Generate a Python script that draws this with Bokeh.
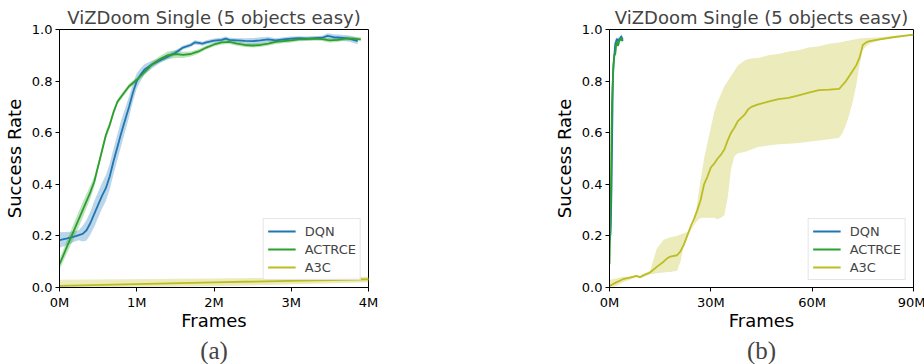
from bokeh.plotting import figure
from bokeh.layouts import row
from bokeh.models import Range1d, FixedTicker, PrintfTickFormatter, Title, Legend
from bokeh.embed import file_html
from bokeh.resources import INLINE

# ---------------- data (x in millions of frames) ----------------
DQN_x = [0, 0.1, 0.2, 0.25, 0.3, 0.35, 0.4, 0.45, 0.5, 0.55, 0.6, 0.65, 0.7, 0.75, 0.8,
         0.85, 0.9, 0.95, 1.0, 1.05, 1.1, 1.2, 1.3, 1.4, 1.5, 1.6, 1.7, 1.75, 1.8, 1.85,
         1.9, 2.0, 2.1, 2.15, 2.2, 2.3, 2.4, 2.5, 2.6, 2.7, 2.8, 2.9, 3.0, 3.1, 3.2,
         3.3, 3.4, 3.47, 3.55, 3.65, 3.75, 3.86]
DQN_y = [0.184, 0.19, 0.198, 0.203, 0.208, 0.222, 0.25, 0.285, 0.32, 0.355, 0.385, 0.43,
         0.49, 0.545, 0.60, 0.65, 0.70, 0.755, 0.80, 0.825, 0.845, 0.865, 0.88, 0.895,
         0.91, 0.93, 0.94, 0.95, 0.948, 0.945, 0.95, 0.957, 0.96, 0.965, 0.96, 0.958,
         0.956, 0.955, 0.958, 0.962, 0.958, 0.962, 0.965, 0.966, 0.965, 0.966, 0.968,
         0.975, 0.97, 0.968, 0.965, 0.955]
DQN_std = [0.03, 0.025, 0.02, 0.02, 0.03, 0.04, 0.045, 0.05, 0.05, 0.05,
           0.05, 0.05, 0.05, 0.05, 0.05, 0.045, 0.04, 0.035, 0.03, 0.025,
           0.02, 0.015, 0.01, 0.01, 0.01, 0.008, 0.008, 0.008, 0.008, 0.008,
           0.008, 0.008, 0.008, 0.008, 0.008, 0.008, 0.01, 0.012, 0.012, 0.01,
           0.008, 0.008, 0.008, 0.008, 0.008, 0.008, 0.008, 0.01, 0.012, 0.012,
           0.012, 0.012]

ACTRCE_x = [0, 0.1, 0.2, 0.3, 0.4, 0.45, 0.5, 0.55, 0.6, 0.65, 0.7, 0.75, 0.8, 0.9, 1.0,
            1.1, 1.2, 1.3, 1.4, 1.5, 1.6, 1.7, 1.75, 1.8, 1.9, 2.0, 2.1, 2.2, 2.3, 2.4,
            2.5, 2.6, 2.7, 2.8, 2.9, 3.0, 3.1, 3.2, 3.3, 3.4, 3.5, 3.6, 3.7, 3.8, 3.9]
ACTRCE_y = [0.09, 0.16, 0.23, 0.30, 0.37, 0.41, 0.47, 0.53, 0.59, 0.63, 0.68, 0.72, 0.74,
            0.78, 0.805, 0.835, 0.865, 0.885, 0.9, 0.905, 0.902, 0.905, 0.91, 0.915, 0.93,
            0.942, 0.95, 0.952, 0.945, 0.94, 0.938, 0.94, 0.945, 0.952, 0.955, 0.958,
            0.962, 0.963, 0.965, 0.963, 0.958, 0.96, 0.965, 0.965, 0.962]
ACTRCE_std = [0.02, 0.025, 0.03, 0.03, 0.025, 0.02, 0.015, 0.015, 0.015, 0.015,
              0.012, 0.01, 0.01, 0.01, 0.01, 0.01, 0.01, 0.012, 0.015, 0.015,
              0.012, 0.01, 0.01, 0.008, 0.008, 0.008, 0.008, 0.008, 0.008, 0.008,
              0.008, 0.008, 0.008, 0.008, 0.008, 0.008, 0.008, 0.008, 0.008, 0.008,
              0.008, 0.008, 0.008, 0.008, 0.008]

A3C_x = [0, 2, 4, 6, 8, 9, 10, 12, 14, 16, 17, 18, 20, 21, 22, 23, 24, 25, 26, 27, 28, 29,
         30, 31, 32, 33, 34, 35, 36, 37, 38, 40, 41, 42, 44, 47, 50, 53, 56, 59, 62, 65,
         68, 69, 70, 71, 72, 73, 74, 75, 76, 77, 80, 84, 90]
A3C_y = [0.006, 0.02, 0.032, 0.038, 0.045, 0.04, 0.047, 0.058, 0.08, 0.10, 0.112, 0.12,
         0.125, 0.14, 0.165, 0.20, 0.235, 0.265, 0.30, 0.34, 0.40, 0.43, 0.465, 0.48,
         0.50, 0.515, 0.535, 0.57, 0.60, 0.62, 0.645, 0.67, 0.69, 0.70, 0.71, 0.72, 0.73,
         0.735, 0.745, 0.755, 0.765, 0.767, 0.77, 0.785, 0.80, 0.82, 0.84, 0.86, 0.89,
         0.94, 0.95, 0.955, 0.962, 0.97, 0.98]
A3C_low = [0.0, 0.005, 0.02, 0.03, 0.04, 0.035, 0.04, 0.05, 0.055, 0.058, 0.06, 0.06,
           0.065, 0.10, 0.16, 0.20, 0.22, 0.24, 0.26, 0.27, 0.27, 0.27, 0.27, 0.27,
           0.265, 0.27, 0.28, 0.35, 0.46, 0.51, 0.52, 0.525, 0.53, 0.535, 0.545, 0.55,
           0.555, 0.557, 0.56, 0.565, 0.57, 0.575, 0.58, 0.60, 0.63, 0.67, 0.72, 0.78,
           0.86, 0.92, 0.935, 0.945, 0.958, 0.968, 0.978]
A3C_high = [0.03, 0.035, 0.042, 0.043, 0.047, 0.045, 0.052, 0.065, 0.15, 0.185, 0.19,
            0.195, 0.2, 0.205, 0.21, 0.215, 0.225, 0.25, 0.33, 0.42, 0.50, 0.56, 0.62,
            0.68, 0.72, 0.75, 0.78, 0.80, 0.82, 0.84, 0.86, 0.88, 0.885, 0.888, 0.89,
            0.9, 0.905, 0.915, 0.92, 0.93, 0.935, 0.945, 0.95, 0.952, 0.955, 0.957, 0.96,
            0.962, 0.965, 0.966, 0.967, 0.968, 0.97, 0.975, 0.982]

TITLE = "ViZDoom Single (5 objects easy)"
Y_TICKS = [0, 0.2, 0.4, 0.6, 0.8, 1.0]
X_TICKS_A = [0, 1, 2, 3, 4]
X_TICKS_B = [0, 30, 60, 90]
CAPTIONS = ["(a)", "(b)"]

BLUE, GREEN, OLIVE = "#1f77b4", "#2ca02c", "#bcbd22"
FONT = "DejaVu Sans"


def make_plot(xmax, xticks, caption, frame_w, left, right):
    p = figure(frame_width=frame_w, frame_height=258, x_range=Range1d(0, xmax),
               y_range=Range1d(0, 1), output_backend="svg", toolbar_location=None,
               min_border_left=left, min_border_right=right, min_border_top=29,
               min_border_bottom=77)
    p.title.text = TITLE
    p.title.align = "center"
    p.title.text_font = FONT
    p.title.text_font_size = "18px"
    p.title.text_font_style = "normal"
    p.title.standoff = 4
    p.grid.visible = False
    p.outline_line_color = "black"
    p.outline_line_alpha = 1
    for ax in (p.xaxis[0], p.yaxis[0]):
        ax.major_tick_in = 0
        ax.major_tick_out = 4
        ax.minor_tick_line_color = None
        ax.axis_line_color = "black"
        ax.major_tick_line_color = "black"
        ax.major_label_text_font = FONT
        ax.major_label_text_font_size = "13px"
        ax.major_label_text_color = "black"
        ax.axis_label_text_font = FONT
        ax.axis_label_text_font_size = "18px"
        ax.axis_label_text_font_style = "normal"
        ax.axis_label_text_color = "black"
        ax.major_label_standoff = 3
    p.xaxis.axis_label_standoff = -3
    p.yaxis.axis_label_standoff = 4
    p.xaxis.ticker = FixedTicker(ticks=xticks)
    p.xaxis.formatter = PrintfTickFormatter(format="%dM")
    p.yaxis.ticker = FixedTicker(ticks=Y_TICKS)
    p.yaxis.formatter = PrintfTickFormatter(format="%.1f")
    p.xaxis.axis_label = "Frames"
    p.yaxis.axis_label = "Success Rate"

    dl = [y - s for y, s in zip(DQN_y, DQN_std)]
    dh = [y + s for y, s in zip(DQN_y, DQN_std)]
    al = [y - s for y, s in zip(ACTRCE_y, ACTRCE_std)]
    ah = [y + s for y, s in zip(ACTRCE_y, ACTRCE_std)]
    p.varea(x=DQN_x, y1=dl, y2=dh, fill_color=BLUE, fill_alpha=0.3)
    p.varea(x=ACTRCE_x, y1=al, y2=ah, fill_color=GREEN, fill_alpha=0.3)
    p.varea(x=A3C_x, y1=A3C_low, y2=A3C_high, fill_color=OLIVE, fill_alpha=0.3)
    r1 = p.line(DQN_x, DQN_y, line_color=BLUE, line_width=1.8)
    r2 = p.line(ACTRCE_x, ACTRCE_y, line_color=GREEN, line_width=1.8)
    r3 = p.line(A3C_x, A3C_y, line_color=OLIVE, line_width=1.8)

    legend = Legend(items=[("DQN", [r1]), ("ACTRCE", [r2]), ("A3C", [r3])],
                    location="bottom_right")
    legend.label_text_font = FONT
    legend.label_text_font_size = "13px"
    legend.label_height = 16
    legend.glyph_height = 16
    legend.glyph_width = 28
    legend.spacing = 2
    legend.padding = 4
    legend.margin = 7
    legend.label_standoff = 9
    legend.border_line_color = "#cccccc"
    legend.background_fill_alpha = 0.85
    p.add_layout(legend, "center")

    cap = Title(text=caption, align="center", text_font="Liberation Serif",
                text_font_size="25px", text_font_style="normal", standoff=3)
    p.add_layout(cap, "below")
    return p


p1 = make_plot(4, X_TICKS_A, CAPTIONS[0], 309, 58, 20)
p2 = make_plot(90, X_TICKS_B, CAPTIONS[1], 304, 221, 12)

layout = row(p1, p2, spacing=0)
open("out.html", "w").write(file_html(layout, INLINE))
